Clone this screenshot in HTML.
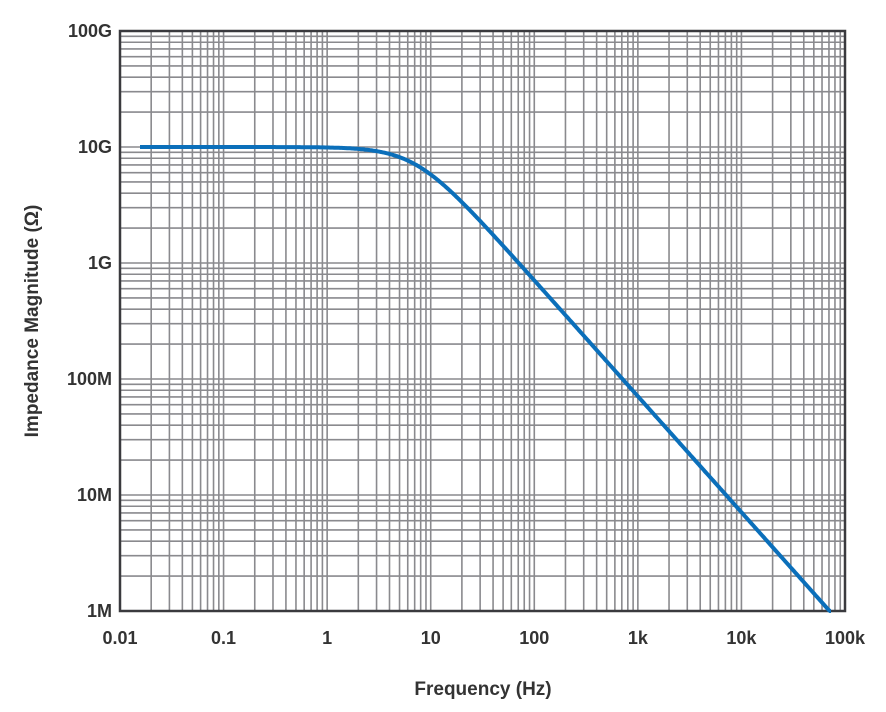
<!DOCTYPE html>
<html><head><meta charset="utf-8"><style>
body{margin:0;background:#fff;}
svg{display:block;}
text{font-family:"Liberation Sans",sans-serif;font-weight:bold;fill:#333;}
</style></head><body>
<svg id="s" width="886" height="712" xmlns="http://www.w3.org/2000/svg"></svg>
<script>
const s=document.getElementById('s');
const L=120,R=845,T=31,B=611,DX=(R-L)/7,DY=(B-T)/5;
let h='';
const gc='#8a8a8e';
for(let d=0;d<7;d++)for(let k=1;k<10;k++){const x=L+DX*(d+Math.log10(k));if(k==1&&d==0)continue;h+=`<line x1="${x}" y1="${T}" x2="${x}" y2="${B}" stroke="${gc}" stroke-width="1.6"/>`;}
for(let d=0;d<5;d++)for(let k=1;k<10;k++){const y=B-DY*(d+Math.log10(k));if(k==1&&d==0)continue;h+=`<line x1="${L}" y1="${y}" x2="${R}" y2="${y}" stroke="${gc}" stroke-width="1.6"/>`;}
h+=`<rect x="${L}" y="${T}" width="${R-L}" height="${B-T}" fill="none" stroke="#3a3a3e" stroke-width="2.5"/>`;
let p='';const fc=7.1;
for(let x=140;x<=831;x+=1){const f=Math.pow(10,-2+(x-L)/DX);const z=1e10/Math.sqrt(1+(f/fc)**2);let y=B-DY*(Math.log10(z)-6);if(y>B)y=B;p+=(p?'L':'M')+x+' '+y.toFixed(1);}
h+=`<path d="${p}" fill="none" stroke="#0b6fba" stroke-width="4"/>`;
const xl=['0.01','0.1','1','10','100','1k','10k','100k'];
xl.forEach((t,i)=>h+=`<text x="${L+DX*i}" y="644" font-size="18" text-anchor="middle">${t}</text>`);
const yl=['1M','10M','100M','1G','10G','100G'];
yl.forEach((t,i)=>h+=`<text x="112" y="${B-DY*i+6}" font-size="18" text-anchor="end">${t}</text>`);
h+=`<text x="483" y="695" font-size="19" text-anchor="middle">Frequency (Hz)</text>`;
h+=`<text transform="translate(38,321) rotate(-90)" font-size="19" text-anchor="middle">Impedance Magnitude (Ω)</text>`;
s.innerHTML=h;
</script>
</body></html>
